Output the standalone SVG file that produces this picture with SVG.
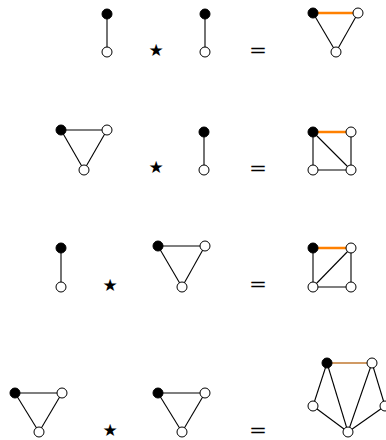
<svg xmlns="http://www.w3.org/2000/svg" width="386" height="440" viewBox="0 0 386 440">
<style>
.e{stroke:#000;stroke-width:1.1;fill:none}
.o{stroke:#ff8000;stroke-width:2.4;fill:none}
.o2{stroke:#c07830;stroke-width:1.3;fill:none}
.b{fill:#000;stroke:#000;stroke-width:1}
.w{fill:#fff;stroke:#000;stroke-width:1}
.op{font-family:"DejaVu Sans",sans-serif;font-size:17px;text-anchor:middle;fill:#000}
.eq{font-family:"DejaVu Sans",sans-serif;font-size:18px;text-anchor:middle;fill:#000}
</style>
<rect width="386" height="440" fill="#fff"/>
<g id="connectors">
<line class="e" x1="107" y1="14" x2="107" y2="52"/>
<line class="e" x1="205" y1="14" x2="205" y2="52"/>
<line class="e" x1="313" y1="13" x2="336" y2="52"/>
<line class="e" x1="358" y1="13" x2="336" y2="52"/>
<line class="o" x1="313" y1="13" x2="358" y2="13"/>
<line class="e" x1="61" y1="130" x2="107" y2="130"/>
<line class="e" x1="61" y1="130" x2="84" y2="170"/>
<line class="e" x1="107" y1="130" x2="84" y2="170"/>
<line class="e" x1="204" y1="132" x2="204" y2="170"/>
<line class="e" x1="313" y1="132" x2="313" y2="170"/>
<line class="e" x1="351" y1="132" x2="351" y2="170"/>
<line class="e" x1="313" y1="170" x2="351" y2="170"/>
<line class="e" x1="313" y1="132" x2="351" y2="170"/>
<line class="o" x1="313" y1="132" x2="351" y2="132"/>
<line class="e" x1="61" y1="248" x2="61" y2="287"/>
<line class="e" x1="158" y1="246" x2="205" y2="246"/>
<line class="e" x1="158" y1="246" x2="182" y2="287"/>
<line class="e" x1="205" y1="246" x2="182" y2="287"/>
<line class="e" x1="313" y1="248" x2="313" y2="287"/>
<line class="e" x1="351" y1="248" x2="351" y2="287"/>
<line class="e" x1="313" y1="287" x2="351" y2="287"/>
<line class="e" x1="313" y1="287" x2="351" y2="248"/>
<line class="o" x1="313" y1="248" x2="351" y2="248"/>
<line class="e" x1="15" y1="393" x2="62" y2="393"/>
<line class="e" x1="15" y1="393" x2="39" y2="432"/>
<line class="e" x1="62" y1="393" x2="39" y2="432"/>
<line class="e" x1="158" y1="393" x2="205" y2="393"/>
<line class="e" x1="158" y1="393" x2="182" y2="432"/>
<line class="e" x1="205" y1="393" x2="182" y2="432"/>
<line class="e" x1="327" y1="363" x2="313" y2="406"/>
<line class="e" x1="327" y1="363" x2="348" y2="432"/>
<line class="e" x1="372" y1="363" x2="348" y2="432"/>
<line class="e" x1="372" y1="363" x2="385" y2="406"/>
<line class="e" x1="313" y1="406" x2="348" y2="432"/>
<line class="e" x1="385" y1="406" x2="348" y2="432"/>
<line class="o2" x1="327" y1="363" x2="372" y2="363"/>
</g>
<g id="row1">
<circle id="r1a1" class="b" cx="107" cy="14" r="5"/>
<circle id="r1a2" class="w" cx="107" cy="52" r="5"/>
<text class="op" x="156" y="56">★</text>
<circle id="r1b1" class="b" cx="205" cy="14" r="5"/>
<circle id="r1b2" class="w" cx="205" cy="52" r="5"/>
<text class="eq" x="258" y="56" textLength="18" lengthAdjust="spacingAndGlyphs">=</text>
<circle id="r1c1" class="b" cx="313" cy="13" r="5"/>
<circle id="r1c2" class="w" cx="358" cy="13" r="5"/>
<circle id="r1c3" class="w" cx="336" cy="52" r="5"/>
</g>
<g id="row2">
<circle id="r2a1" class="b" cx="61" cy="130" r="5"/>
<circle id="r2a2" class="w" cx="107" cy="130" r="5"/>
<circle id="r2a3" class="w" cx="84" cy="170" r="5"/>
<text class="op" x="156" y="173">★</text>
<circle id="r2b1" class="b" cx="204" cy="132" r="5"/>
<circle id="r2b2" class="w" cx="204" cy="170" r="5"/>
<text class="eq" x="258" y="174" textLength="18" lengthAdjust="spacingAndGlyphs">=</text>
<circle id="r2c1" class="b" cx="313" cy="132" r="5"/>
<circle id="r2c2" class="w" cx="351" cy="132" r="5"/>
<circle id="r2c3" class="w" cx="313" cy="170" r="5"/>
<circle id="r2c4" class="w" cx="351" cy="170" r="5"/>
</g>
<g id="row3">
<circle id="r3a1" class="b" cx="61" cy="248" r="5"/>
<circle id="r3a2" class="w" cx="61" cy="287" r="5"/>
<text class="op" x="110" y="291">★</text>
<circle id="r3b1" class="b" cx="158" cy="246" r="5"/>
<circle id="r3b2" class="w" cx="205" cy="246" r="5"/>
<circle id="r3b3" class="w" cx="182" cy="287" r="5"/>
<text class="eq" x="258" y="290" textLength="18" lengthAdjust="spacingAndGlyphs">=</text>
<circle id="r3c1" class="b" cx="313" cy="248" r="5"/>
<circle id="r3c2" class="w" cx="351" cy="248" r="5"/>
<circle id="r3c3" class="w" cx="313" cy="287" r="5"/>
<circle id="r3c4" class="w" cx="351" cy="287" r="5"/>
</g>
<g id="row4">
<circle id="r4a1" class="b" cx="15" cy="393" r="5"/>
<circle id="r4a2" class="w" cx="62" cy="393" r="5"/>
<circle id="r4a3" class="w" cx="39" cy="432" r="5"/>
<text class="op" x="110" y="436">★</text>
<circle id="r4b1" class="b" cx="158" cy="393" r="5"/>
<circle id="r4b2" class="w" cx="205" cy="393" r="5"/>
<circle id="r4b3" class="w" cx="182" cy="432" r="5"/>
<text class="eq" x="258" y="435.5" textLength="18" lengthAdjust="spacingAndGlyphs">=</text>
<circle id="r4c1" class="b" cx="327" cy="363" r="5"/>
<circle id="r4c2" class="w" cx="372" cy="363" r="5"/>
<circle id="r4c3" class="w" cx="313" cy="406" r="5"/>
<circle id="r4c4" class="w" cx="348" cy="432" r="5"/>
<circle id="r4c5" class="w" cx="385" cy="406" r="5"/>
</g>
</svg>
